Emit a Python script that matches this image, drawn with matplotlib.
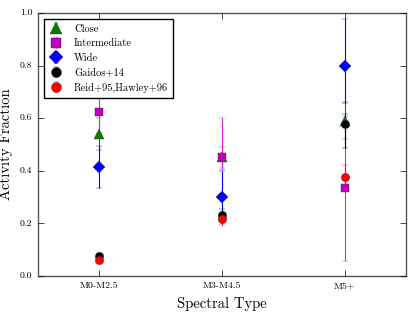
import matplotlib
matplotlib.use('Agg')
import matplotlib.pyplot as plt
import numpy as np

# ── Data ──────────────────────────────────────────
spectral_types = ["M0-M2.5", "M3-M4.5", "M5+"]

close_frac = [0.54, 0.452, 0.59]
close_lo = [0.06, 0.04, 0.07]
close_hi = [0.06, 0.04, 0.07]

inter_frac = [0.625, 0.452, 0.333]
inter_lo = [0.08, 0.05, 0.275]
inter_hi = [0.11, 0.15, 0.27]

wide_frac = [0.413, 0.30, 0.80]
wide_lo = [0.078, 0.08, 0.143]
wide_hi = [0.08, 0.10, 0.177]

gaidos_frac = [0.075, 0.233, 0.578]
gaidos_lo = [0.01, 0.02, 0.09]
gaidos_hi = [0.01, 0.02, 0.04]

reid_frac = [0.06, 0.215, 0.377]
reid_lo = [0.01, 0.02, 0.04]
reid_hi = [0.01, 0.02, 0.045]

plt.style.use('classic')
plt.rcParams['font.family'] = ['cmr10', 'DejaVu Serif']
plt.rcParams['axes.formatter.use_mathtext'] = True
plt.rcParams['mathtext.fontset'] = 'cm'

fig = plt.figure(figsize=(4.15, 3.12), dpi=100)
ax = fig.add_axes([0.0916, 0.1154, 0.8864, 0.8426])

x = np.arange(len(spectral_types))
# (values, lower err, upper err, marker colour, error colour, marker, size, label)
series = [
    (close_frac, close_lo, close_hi, 'g', 'g', '^', 7, 'Close'),
    (inter_frac, inter_lo, inter_hi, 'm', '#dd22dd', 's', 6, 'Intermediate'),
    (wide_frac, wide_lo, wide_hi, 'b', 'b', 'D', 6, 'Wide'),
    (gaidos_frac, gaidos_lo, gaidos_hi, 'k', 'k', 'o', 6, 'Gaidos+14'),
    (reid_frac, reid_lo, reid_hi, 'r', 'r', 'o', 6, 'Reid+95,Hawley+96'),
]
for vals, lo, hi, col, ecol, mk, ms, lab in series:
    ax.errorbar(x, vals, yerr=[lo, hi], fmt=mk, color=col, ecolor=ecol,
                markersize=ms, markeredgewidth=0.3, markeredgecolor='#333333',
                elinewidth=0.8, capsize=2, capthick=0.5, label=lab)

ax.set_xlim(-0.5, 2.5)
ax.set_ylim(0, 1.0)
ax.set_xticks(x)
ax.set_xticklabels(spectral_types, fontsize=7)
ax.set_yticks([0.0, 0.2, 0.4, 0.6, 0.8, 1.0])
ax.set_yticklabels(['0.0', '0.2', '0.4', '0.6', '0.8', '1.0'], fontsize=7)
ax.set_xlabel('Spectral Type', fontsize=10.5)
ax.set_ylabel('Activity Fraction', fontsize=10.5)
for s in ax.spines.values():
    s.set_color('#555555')

ax.legend(loc='upper left', numpoints=1, fontsize=7.5, frameon=True,
          markerscale=1.2, handlelength=1.4, handletextpad=1.0,
          borderaxespad=0.6, labelspacing=0.5, borderpad=0.45)

fig.savefig('out.png', dpi=100)
